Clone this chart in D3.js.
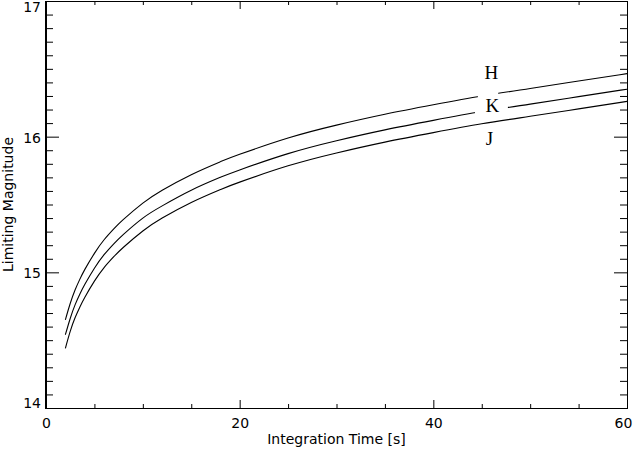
<!DOCTYPE html>
<html>
<head>
<meta charset="utf-8">
<script src="https://cdn.jsdelivr.net/npm/d3@7"></script>
<style>
  html, body { margin: 0; padding: 0; background: #fff; }
  svg { display: block; }
  .ax text { font-family: "DejaVu Sans", sans-serif; font-size: 14px; fill: #000; }
</style>
</head>
<body>
<svg id="chart" width="634" height="450"></svg>
<script>
// ---- data ----
const times = [2, 2.5, 3, 3.5, 4, 5, 6, 7, 8, 10, 12, 15, 18, 20, 25, 30, 35, 40, 45, 50, 55, 60];
const magH = [14.65, 14.77, 14.87, 14.95, 15.02, 15.14, 15.24, 15.32, 15.39, 15.51, 15.605, 15.72, 15.815, 15.87, 15.99, 16.085, 16.165, 16.235, 16.30, 16.355, 16.41, 16.465];
const magK = [14.54, 14.66, 14.76, 14.84, 14.91, 15.03, 15.13, 15.21, 15.28, 15.40, 15.49, 15.605, 15.70, 15.755, 15.875, 15.97, 16.05, 16.12, 16.185, 16.24, 16.295, 16.35];
const magJ = [14.44, 14.565, 14.665, 14.745, 14.815, 14.935, 15.035, 15.115, 15.185, 15.305, 15.40, 15.515, 15.61, 15.665, 15.785, 15.88, 15.96, 16.03, 16.095, 16.15, 16.205, 16.26];
const bandNames = ["H", "K", "J"];
const labelT = [46.0, 46.1, 45.8];
const labelM = [16.425, 16.18, 15.94];
const gapT = [[44.6, 46.7], [44.3, 47.7], null];
const xMajorTicks = [0, 20, 40, 60];
const xMinorTicks = [5, 10, 15, 25, 30, 35, 45, 50, 55];
const yMajorTicks = [14, 15, 16, 17];
const yMinorTicks = [14.1,14.2,14.3,14.4,14.5,14.6,14.7,14.8,14.9,15.1,15.2,15.3,15.4,15.5,15.6,15.7,15.8,15.9,16.1,16.2,16.3,16.4,16.5,16.6,16.7,16.8,16.9];
const xTitle = "Integration Time [s]";
const yTitle = "Limiting Magnitude";

// ---- layout ----
const L = 46, R = 627, T = 1, B = 408;
const svg = d3.select("#chart");
const x = d3.scaleLinear().domain([0, 60]).range([L, R]);
const y = d3.scaleLinear().domain([14, 17]).range([B, T]);

const series = [magH, magK, magJ];
const line = d3.line().x(d => x(d[0])).y(d => y(d[1])).curve(d3.curveNatural);

series.forEach((vals, i) => {
  const pts = times.map((t, j) => [t, vals[j]]);
  svg.append("path").attr("d", line(pts))
    .attr("fill", "none").attr("stroke", "#000").attr("stroke-width", 1.1);
});

// gaps in the lines next to labels
series.forEach((vals, i) => {
  const g = gapT[i];
  if (!g) return;
  const m0 = d3.scaleLinear().domain(times).range(vals)(g[0]);
  const m1 = d3.scaleLinear().domain(times).range(vals)(g[1]);
  svg.append("rect")
    .attr("x", x(g[0])).attr("width", x(g[1]) - x(g[0]))
    .attr("y", y(Math.max(m0, m1)) - 4).attr("height", Math.abs(y(m0) - y(m1)) + 8)
    .attr("fill", "#fff");
});

// band labels
bandNames.forEach((n, i) => {
  svg.append("text").attr("x", x(labelT[i])).attr("y", y(labelM[i]))
    .attr("text-anchor", "middle")
    .attr("font-family", "'Liberation Serif', serif").attr("font-size", 19)
    .text(n);
});

// ---- axes ----
function clean(g) { g.select(".domain").remove(); g.selectAll("line").attr("stroke", "#000"); }

const xl = svg.append("g").attr("class", "ax").attr("transform", `translate(0,${B})`)
  .call(d3.axisBottom(x).tickValues(xMajorTicks).tickSize(-8).tickPadding(10).tickFormat(d3.format("d")))
  .call(clean);
xl.selectAll("text").attr("dx", d => d === 60 ? -4 : 0);
svg.append("g").attr("class", "ax").attr("transform", `translate(0,${B})`)
  .call(d3.axisBottom(x).tickValues(xMinorTicks).tickSize(-4).tickFormat(""))
  .call(clean);
svg.append("g").attr("class", "ax").attr("transform", `translate(0,${T})`)
  .call(d3.axisTop(x).tickValues(xMajorTicks).tickSize(-8).tickFormat(""))
  .call(clean);
svg.append("g").attr("class", "ax").attr("transform", `translate(0,${T})`)
  .call(d3.axisTop(x).tickValues(xMinorTicks).tickSize(-4).tickFormat(""))
  .call(clean);

const yl = svg.append("g").attr("class", "ax").attr("transform", `translate(${L},0)`)
  .call(d3.axisLeft(y).tickValues(yMajorTicks).tickSize(-13).tickPadding(5).tickFormat(d3.format("d")))
  .call(clean);
yl.selectAll("text").attr("dy", d => d === 14 ? "-0.05em" : d === 17 ? "0.72em" : "0.4em");
svg.append("g").attr("class", "ax").attr("transform", `translate(${L},0)`)
  .call(d3.axisLeft(y).tickValues(yMinorTicks).tickSize(-7).tickFormat(""))
  .call(clean);
svg.append("g").attr("class", "ax").attr("transform", `translate(${R},0)`)
  .call(d3.axisRight(y).tickValues(yMajorTicks).tickSize(-13).tickFormat(""))
  .call(clean);
svg.append("g").attr("class", "ax").attr("transform", `translate(${R},0)`)
  .call(d3.axisRight(y).tickValues(yMinorTicks).tickSize(-7).tickFormat(""))
  .call(clean);

// frame
svg.append("line").attr("x1", L).attr("x2", R).attr("y1", B + 0.5).attr("y2", B + 0.5).attr("stroke", "#000");
svg.append("line").attr("x1", L).attr("x2", R).attr("y1", T + 0.5).attr("y2", T + 0.5).attr("stroke", "#000");
svg.append("line").attr("x1", L).attr("x2", L).attr("y1", T).attr("y2", B + 1).attr("stroke", "#000").attr("stroke-width", 2);
svg.append("line").attr("x1", R + 0.5).attr("x2", R + 0.5).attr("y1", T).attr("y2", B + 1).attr("stroke", "#000");

// titles
svg.append("text").attr("class", "ax").attr("x", (L + R) / 2).attr("y", 444)
  .attr("text-anchor", "middle")
  .attr("font-family", "'DejaVu Sans', sans-serif").attr("font-size", 14).text(xTitle);
svg.append("text")
  .attr("transform", `translate(13,${(T + B) / 2}) rotate(-90)`)
  .attr("text-anchor", "middle")
  .attr("font-family", "'DejaVu Sans', sans-serif").attr("font-size", 14).text(yTitle);
</script>
</body>
</html>
